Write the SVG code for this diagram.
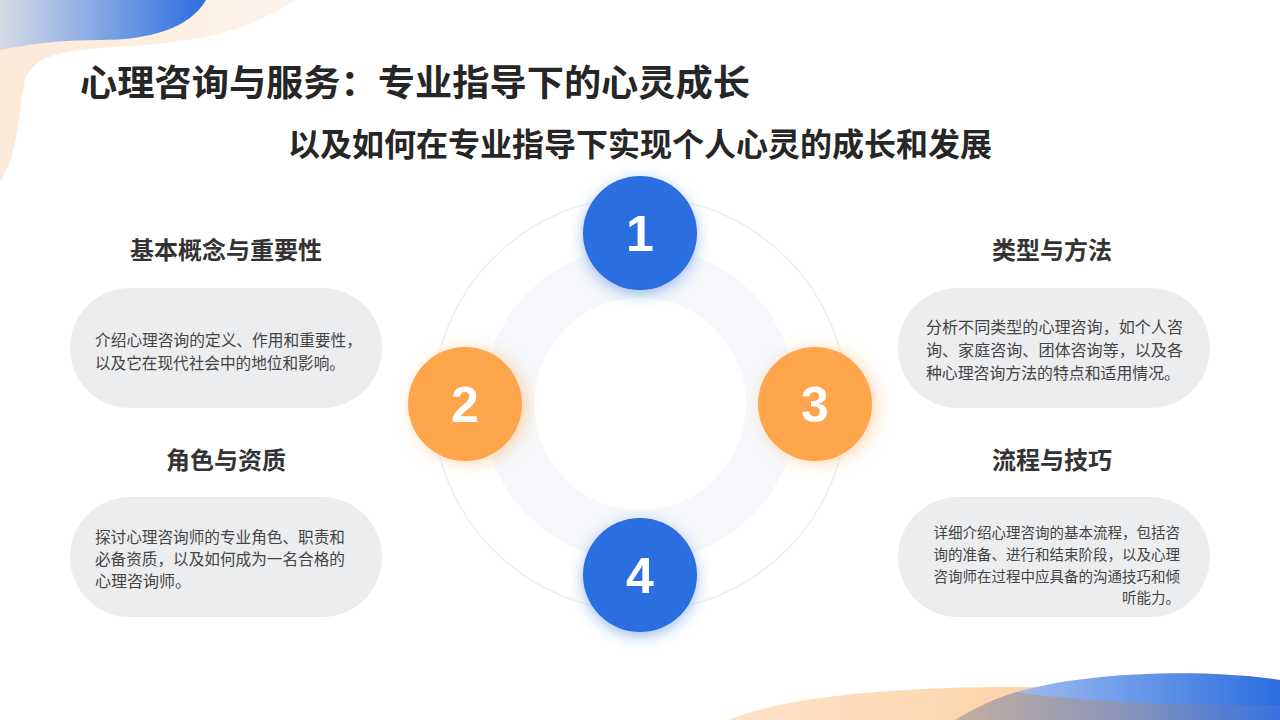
<svg xmlns="http://www.w3.org/2000/svg" width="1280" height="720" viewBox="0 0 1280 720">
<defs>
<linearGradient id="gBlueTL" x1="0" y1="0" x2="1" y2="0">
<stop offset="0" stop-color="#d6dbe6"/>
<stop offset="1" stop-color="#2a6ee0"/>
</linearGradient>
<linearGradient id="gPeach" x1="0" y1="0" x2="1" y2="0">
<stop offset="0" stop-color="#fde9d8"/>
<stop offset="1" stop-color="#fef3ea"/>
</linearGradient>
<linearGradient id="gPeachBR" x1="0" y1="0" x2="1" y2="0">
<stop offset="0" stop-color="#fde3c9"/>
<stop offset="1" stop-color="#fec68c"/>
</linearGradient>
<linearGradient id="gBlueBR" x1="0" y1="0" x2="1" y2="0">
<stop offset="0" stop-color="#a7c0ef"/>
<stop offset="1" stop-color="#2a6ee0"/>
</linearGradient>
<linearGradient id="gMixBR" x1="0" y1="0" x2="1" y2="0">
<stop offset="0" stop-color="#c5aea0"/>
<stop offset="0.5" stop-color="#8c96b9"/>
<stop offset="1" stop-color="#3a72dc"/>
</linearGradient>
<filter id="glowBlue" x="-50%" y="-50%" width="200%" height="200%">
<feDropShadow dx="0" dy="4" stdDeviation="7" flood-color="#2a6ee0" flood-opacity="0.45"/>
</filter>
<filter id="glowOrange" x="-50%" y="-50%" width="200%" height="200%">
<feDropShadow dx="4" dy="2" stdDeviation="8" flood-color="#ffa64d" flood-opacity="0.45"/>
</filter>
<style>
.title{font-family:"Noto Sans CJK SC","Noto Sans",sans-serif;font-weight:700;fill:#262626;}
.head{font-family:"Noto Sans CJK SC","Noto Sans",sans-serif;font-weight:700;font-size:24px;fill:#333333;text-anchor:middle;}
.body{font-family:"Noto Sans CJK SC","Noto Sans",sans-serif;font-size:16px;fill:#444444;}
.small{font-size:14.5px;text-anchor:end;}
.num{font-family:"Liberation Sans",Arial,sans-serif;font-weight:700;font-size:50px;fill:#ffffff;text-anchor:middle;}
.pill{fill:#ecedef;}
</style>
</defs>
<rect width="1280" height="720" fill="#ffffff"/>
<!-- decorations -->
<path d="M0 0 L296 0 C250 30 200 42 130 46 C70 50 35 52 25 80 C18 110 20 150 0 182 Z" fill="url(#gPeach)"/>
<path d="M0 0 L206 0 C190 28 150 40 100 40 C60 40 30 44 0 50 Z" fill="url(#gBlueTL)"/>
<path d="M728 720 C780 698 880 688 1000 687 C1120 686 1200 692 1280 700 L1280 720 Z" fill="url(#gPeachBR)"/>
<path d="M1010 694 C1080 672 1200 668 1280 680 L1280 720 L1000 720 Z" fill="url(#gBlueBR)"/>
<path d="M955 720 C975 708 995 698 1017 692 C1080 702 1180 706 1280 705 L1280 720 Z" fill="url(#gMixBR)"/>
<!-- titles -->
<text class="title" x="80" y="96" font-size="36" textLength="670" lengthAdjust="spacingAndGlyphs">心理咨询与服务：专业指导下的心灵成长</text>
<text class="title" x="640" y="156" font-size="32" text-anchor="middle">以及如何在专业指导下实现个人心灵的成长和发展</text>
<!-- center ring -->
<g id="ring">
<circle cx="640" cy="404" r="207" fill="none" stroke="#eeeff2" stroke-width="1.5"/>
<circle cx="640" cy="404" r="158" fill="#f5f7fa"/>
<circle cx="640" cy="404" r="106" fill="#ffffff"/>
</g>
<g id="connectors"></g>
<g id="node1">
<circle cx="640" cy="233" r="57" fill="#2a6ee0" filter="url(#glowBlue)"/>
<text class="num" x="640" y="251">1</text>
</g>
<g id="node2">
<circle cx="465" cy="404" r="57" fill="#ffa64d" filter="url(#glowOrange)"/>
<text class="num" x="465" y="422">2</text>
</g>
<g id="node3">
<circle cx="815" cy="404" r="57" fill="#ffa64d" filter="url(#glowOrange)"/>
<text class="num" x="815" y="422">3</text>
</g>
<g id="node4">
<circle cx="640" cy="575" r="57" fill="#2a6ee0" filter="url(#glowBlue)"/>
<text class="num" x="640" y="593">4</text>
</g>
<g id="card1">
<text class="head" x="226" y="259">基本概念与重要性</text>
<rect class="pill" x="70" y="288" width="312" height="120" rx="60"/>
<text class="body" x="95" y="346" textLength="267" lengthAdjust="spacingAndGlyphs">介绍心理咨询的定义、作用和重要性，</text>
<text class="body" x="95" y="369" textLength="250" lengthAdjust="spacingAndGlyphs">以及它在现代社会中的地位和影响。</text>
</g>
<g id="card2">
<text class="head" x="226" y="469">角色与资质</text>
<rect class="pill" x="70" y="497" width="312" height="120" rx="60"/>
<text class="body" x="95" y="543" textLength="250" lengthAdjust="spacingAndGlyphs">探讨心理咨询师的专业角色、职责和</text>
<text class="body" x="95" y="565" textLength="250" lengthAdjust="spacingAndGlyphs">必备资质，以及如何成为一名合格的</text>
<text class="body" x="95" y="587">心理咨询师。</text>
</g>
<g id="card3">
<text class="head" x="1052" y="259">类型与方法</text>
<rect class="pill" x="898" y="288" width="312" height="120" rx="60"/>
<text class="body" x="926" y="333" textLength="257" lengthAdjust="spacingAndGlyphs">分析不同类型的心理咨询，如个人咨</text>
<text class="body" x="926" y="356" textLength="257" lengthAdjust="spacingAndGlyphs">询、家庭咨询、团体咨询等，以及各</text>
<text class="body" x="926" y="379" textLength="254" lengthAdjust="spacingAndGlyphs">种心理咨询方法的特点和适用情况。</text>
</g>
<g id="card4">
<text class="head" x="1052" y="469">流程与技巧</text>
<rect class="pill" x="898" y="497" width="312" height="120" rx="60"/>
<text class="body small" x="1180" y="538">详细介绍心理咨询的基本流程，包括咨</text>
<text class="body small" x="1180" y="560">询的准备、进行和结束阶段，以及心理</text>
<text class="body small" x="1180" y="582">咨询师在过程中应具备的沟通技巧和倾</text>
<text class="body small" x="1180" y="603">听能力。</text>
</g>
</svg>
